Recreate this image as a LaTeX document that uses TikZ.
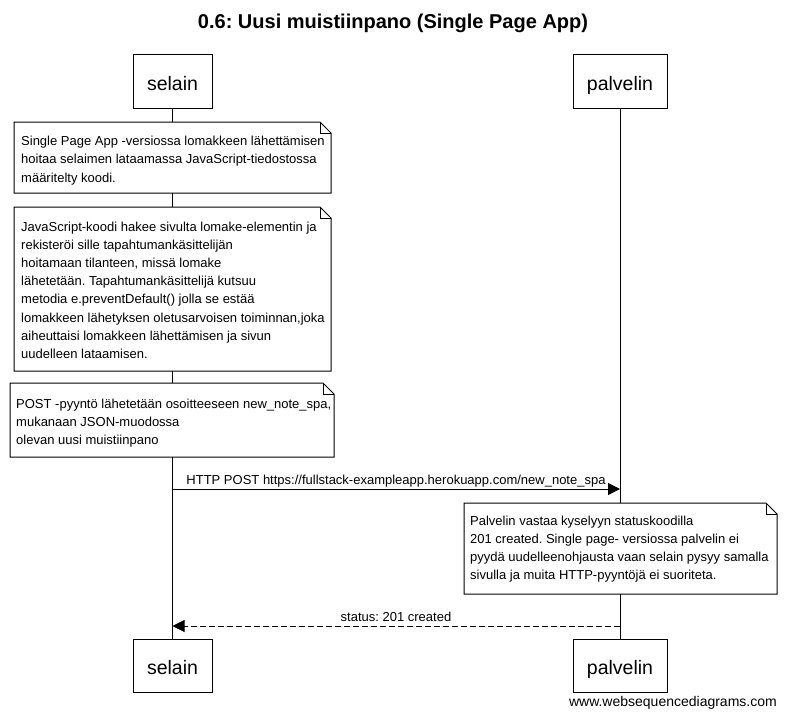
\documentclass[tikz,border=0pt]{standalone}
\usepackage{fontspec}
\setmainfont{Liberation Sans}
\usetikzlibrary{arrows.meta}
\frenchspacing
\tikzset{
  actor/.style={draw=black, line width=1pt, fill=white, minimum height=53pt, inner sep=0pt,
    text height=17pt, text depth=0pt, font=\fontsize{19.5}{22}\selectfont},
  lifeline/.style={draw=black, line width=1pt},
  notebox/.style={draw=black, line width=1pt, fill=white, line join=miter},
  notetext/.style={anchor=north west, inner sep=0pt, align=left,
    font=\fontsize{13}{18.2}\selectfont},
  msg/.style={draw=black, line width=1pt, -{Triangle[length=12pt,width=12pt]}},
  reply/.style={msg, dash pattern=on 6pt off 3pt},
  msglabel/.style={inner sep=0pt, font=\fontsize{13}{15}\selectfont},
}
\begin{document}
\begin{tikzpicture}[x=1pt,y=-1pt]
\useasboundingbox[fill=white] (0,0) rectangle (786,717);

% title
\node[font=\bfseries\fontsize{20}{24}\selectfont] (title) at (393,23) {0.6: Uusi muistiinpano (Single Page App)};

% participants
\node[actor, minimum width=79pt] (selT) at (172.5,81.5) {selain};
\node[actor, minimum width=94pt] (palT) at (620,81.5) {palvelin};
\node[actor, minimum width=79pt] (selB) at (172.5,665.5) {selain};
\node[actor, minimum width=94pt] (palB) at (620,665.5) {palvelin};

% lifelines
\draw[lifeline] (selT.south) -- (selB.north);
\draw[lifeline] (palT.south) -- (palB.north);

% note 1
\draw[notebox] (14,122) -- (320,122) -- (331,133) -- (331,193) -- (14,193) -- cycle;
\draw[line width=0.6pt] (320,122) -- (320,133) -- (331,133);
\node[notetext] (n1) at (21,136) {Single Page App -versiossa lomakkeen lähettämisen\\hoitaa selaimen lataamassa JavaScript-tiedostossa\\määritelty koodi.};

% note 2
\draw[notebox] (14,207) -- (320,207) -- (331,218) -- (331,371) -- (14,371) -- cycle;
\draw[line width=0.6pt] (320,207) -- (320,218) -- (331,218);
\node[notetext] (n2) at (21,221.5) {JavaScript-koodi hakee sivulta lomake-elementin ja\\rekisteröi sille tapahtumankäsittelijän\\hoitamaan tilanteen, missä lomake\\lähetetään. Tapahtumankäsittelijä kutsuu\\metodia e.preventDefault() jolla se estää\\lomakkeen lähetyksen oletusarvoisen toiminnan,joka\\aiheuttaisi lomakkeen lähettämisen ja sivun\\uudelleen lataamisen.};

% note 3
\draw[notebox] (10,383) -- (323,383) -- (334,394) -- (334,457) -- (10,457) -- cycle;
\draw[line width=0.6pt] (323,383) -- (323,394) -- (334,394);
\node[notetext] (n3) at (16,398.5) {POST -pyyntö lähetetään osoitteeseen new\_note\_spa,\\mukanaan JSON-muodossa\\olevan uusi muistiinpano};

% message 1
\coordinate (m1s) at (selT.south |- 0,489);
\coordinate (m1e) at (palT.south |- 0,489);
\draw[msg] (m1s) -- (m1e);
\node[msglabel, anchor=base] (m1l) at (396,484.5) {HTTP POST https://fullstack-exampleapp.herokuapp.com/new\_note\_spa};

% note 4
\draw[notebox] (464,503) -- (766,503) -- (777,514) -- (777,594) -- (464,594) -- cycle;
\draw[line width=0.6pt] (766,503) -- (766,514) -- (777,514);
\node[notetext] (n4) at (470,515.5) {Palvelin vastaa kyselyyn statuskoodilla\\201 created. Single page- versiossa palvelin ei\\pyydä uudelleenohjausta vaan selain pysyy samalla\\sivulla ja muita HTTP-pyyntöjä ei suoriteta.};

% message 2
\coordinate (m2s) at (palT.south |- 0,626);
\coordinate (m2e) at (selT.south |- 0,626);
\draw[reply] (m2s) -- (m2e);
\node[msglabel, anchor=base] (m2l) at (396,621.5) {status: 201 created};

% footer
\node[anchor=base east, inner sep=0pt, font=\fontsize{14}{16}\selectfont] (foot) at (777,706) {www.websequencediagrams.com};
\end{tikzpicture}
\end{document}
